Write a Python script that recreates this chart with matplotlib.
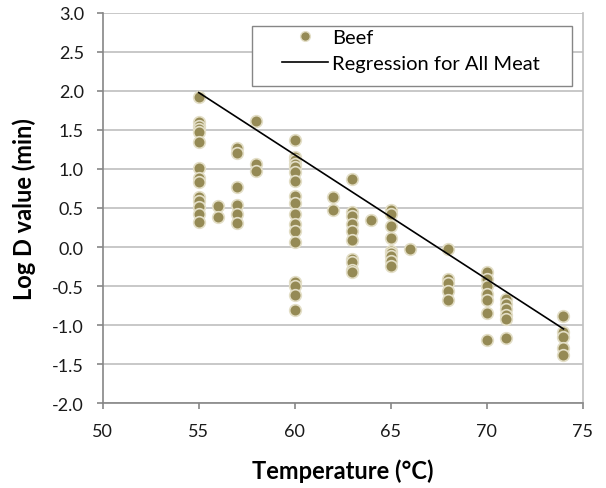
import matplotlib
matplotlib.use("Agg")
import matplotlib.pyplot as plt
from matplotlib.lines import Line2D
from matplotlib.patches import Rectangle

plt.rcParams['font.family'] = ['Lato', 'DejaVu Sans']

# Beef data: temperature (°C) and log D value (min)
temp_55 = [1.92, 1.60, 1.555, 1.51, 1.47, 1.34, 1.01, 0.89, 0.83, 0.64, 0.59, 0.51, 0.42, 0.32]
temp_56 = [0.53, 0.38]
temp_57 = [1.27, 1.21, 0.77, 0.54, 0.42, 0.31]
temp_58 = [1.61, 1.06, 0.97]
temp_60 = [1.37, 1.16, 1.11, 1.06, 1.02, 0.96, 0.85, 0.66, 0.57, 0.42, 0.29, 0.21, 0.06,
           -0.45, -0.50, -0.62, -0.81]
temp_62 = [0.64, 0.47]
temp_63 = [0.87, 0.45, 0.40, 0.29, 0.20, 0.09, -0.15, -0.19, -0.29, -0.32]
temp_64 = [0.35]
temp_65 = [0.47, 0.42, 0.27, 0.11, -0.05, -0.08, -0.11, -0.18, -0.24]
temp_66 = [-0.03]
temp_68 = [-0.03, -0.41, -0.46, -0.56, -0.68]
temp_70 = [-0.32, -0.41, -0.50, -0.60, -0.68, -0.84, -1.19]
temp_71 = [-0.67, -0.73, -0.79, -0.87, -0.92, -1.17]
temp_74 = [-0.88, -1.09, -1.16, -1.29, -1.39]

groups = {55: temp_55, 56: temp_56, 57: temp_57, 58: temp_58, 60: temp_60, 62: temp_62,
          63: temp_63, 64: temp_64, 65: temp_65, 66: temp_66, 68: temp_68, 70: temp_70,
          71: temp_71, 74: temp_74}

reg_x = [55, 74]
reg_y = [1.98, -1.05]

x_ticks = [50, 55, 60, 65, 70, 75]
y_ticks = [3.0, 2.5, 2.0, 1.5, 1.0, 0.5, 0.0, -0.5, -1.0, -1.5, -2.0]

xs, ys = [], []
for t, vals in groups.items():
    xs += [t] * len(vals)
    ys += vals

fig = plt.figure(figsize=(6.06, 4.89), dpi=100)
ax = fig.add_axes([0.1695, 0.1738, 0.792, 0.7976])

ax.set_xlim(50, 75)
ax.set_ylim(-2.0, 3.0)
ax.set_yticks(y_ticks)
ax.set_xticks(x_ticks)
ax.set_yticklabels([f"{v:.1f}" for v in y_ticks])
ax.grid(axis='y', color='#BFBFBF', linewidth=1.2)
ax.set_axisbelow(True)

ax.spines['top'].set_visible(False)
for s in ['left', 'bottom']:
    ax.spines[s].set_color('#868686')
    ax.spines[s].set_linewidth(1.2)
ax.spines['right'].set_color('#BFBFBF')
ax.spines['right'].set_linewidth(1.2)
ax.tick_params(axis='both', colors='#868686', length=4.5, width=1.2, direction='out',
               labelsize=13, labelcolor='#1a1a1a')
ax.tick_params(axis='x', pad=10)
ax.tick_params(axis='y', pad=9)

ax.scatter(xs, ys, s=70, c='#958A55', edgecolors='#E3DEC6', linewidths=1.2, zorder=3)
ax.plot(reg_x, reg_y, color='black', linewidth=1.2, zorder=4)

ax.set_xlabel('Temperature (°C)', fontsize=17, fontweight='bold')
ax.set_ylabel('Log D value (min)', fontsize=17, fontweight='bold')
ax.xaxis.set_label_coords(0.5, -0.143)
ax.yaxis.set_label_coords(-0.139, 0.5)

# legend frame
ax.add_patch(Rectangle((0.311, 0.813), 0.667, 0.154, transform=ax.transAxes,
                       facecolor='white', edgecolor='#868686', linewidth=1.0, zorder=5))
handles = [Line2D([], [], marker='o', linestyle='none', markersize=7,
                  markerfacecolor='#958A55', markeredgecolor='#E3DEC6', label='Beef'),
           Line2D([], [], color='black', linewidth=1.2, label='Regression for All Meat')]
leg = ax.legend(handles=handles, loc='upper left', bbox_to_anchor=(0.3735, 0.958),
                fontsize=14.5, frameon=False, borderpad=0, borderaxespad=0,
                handlelength=2.3, labelspacing=0.42, handletextpad=0.2)
leg.set_zorder(6)

fig.savefig('out.png', dpi=100)
